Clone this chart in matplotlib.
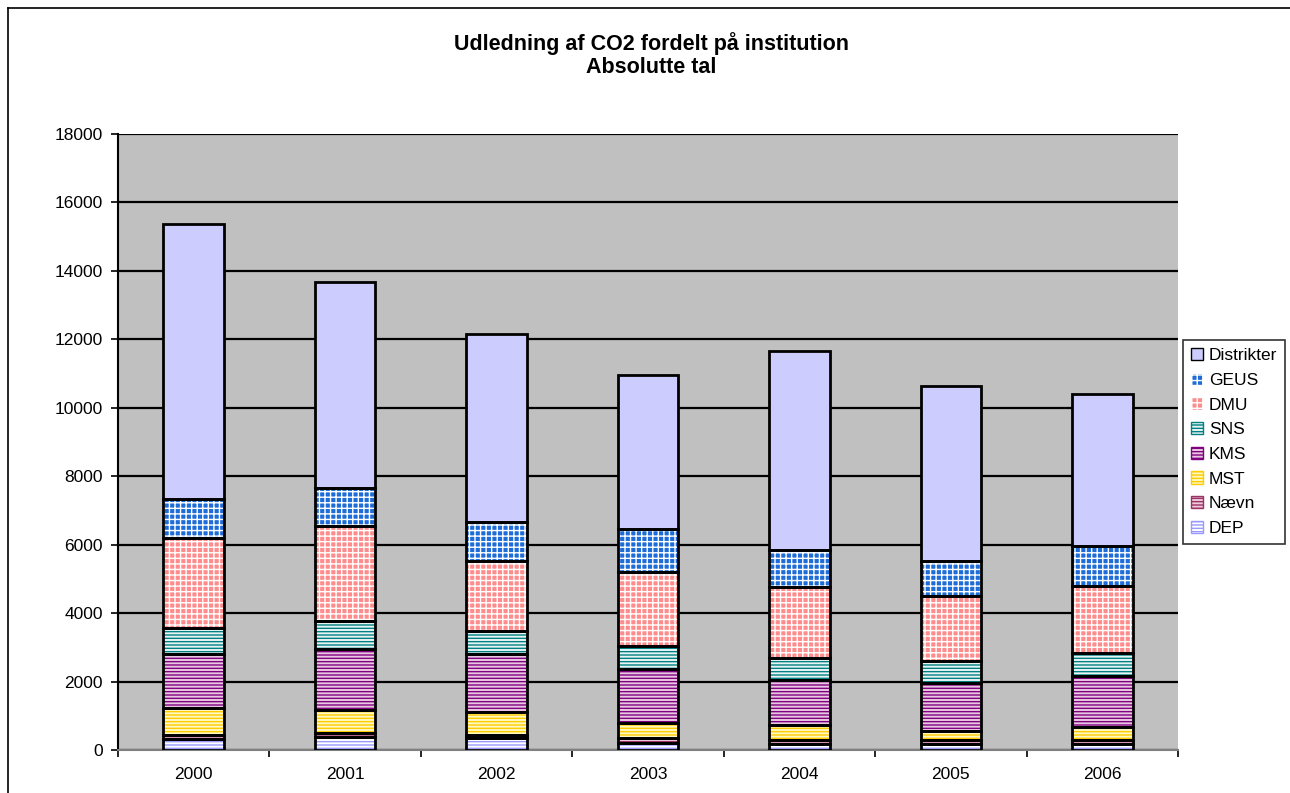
import numpy as np
import matplotlib.pyplot as plt
from matplotlib.patches import Patch
from matplotlib.lines import Line2D

plt.rcParams['font.family'] = ['Liberation Sans', 'DejaVu Sans']
plt.rcParams['hatch.linewidth'] = 1.0

years = ['2000', '2001', '2002', '2003', '2004', '2005', '2006']
series = ['DEP', 'Nævn', 'MST', 'KMS', 'SNS', 'DMU', 'GEUS', 'Distrikter']

dep = [313, 371, 341, 214, 175, 175, 166]
naevn = [117, 117, 97, 127, 117, 117, 126]
mst = [798, 681, 682, 439, 438, 263, 390]
kms = [1579, 1773, 1685, 1587, 1315, 1393, 1489]
sns = [760, 836, 681, 681, 634, 662, 672]
dmu = [2637, 2776, 2025, 2153, 2093, 1890, 1937]
geus = [1122, 1092, 1140, 1257, 1061, 1011, 1169]
distrikter = [8044, 6038, 5514, 4508, 5834, 5134, 4463]

values = [dep, naevn, mst, kms, sns, dmu, geus, distrikter]

# face colour, hatch colour, hatch pattern
styles = [
    ('#FFFFFF', '#9999FF', '-----'),
    ('#F0C8D8', '#993366', '-----'),
    ('#FFF8C0', '#FFCC00', '-----'),
    ('#E8C8E0', '#800080', '-----'),
    ('#E8F4F4', '#008080', '-----'),
    ('#FF8C8C', '#FFFFFF', '+++'),
    ('#1E6CD8', '#FFFFFF', '+++'),
    ('#CCCCFF', None, None),
]

fig = plt.figure(figsize=(12.9, 7.93), dpi=100)
ax = fig.add_axes([118 / 1290, 43 / 793, 1060 / 1290, 616 / 793])
ax.set_facecolor('#C0C0C0')

x = np.arange(len(years))
width = 0.40
bottom = np.zeros(len(years))
for vals, (fc, hc, hatch) in zip(values, styles):
    vals = np.array(vals, dtype=float)
    if hatch:
        ax.bar(x, vals, width, bottom=bottom, color=fc, edgecolor=hc,
               hatch=hatch, linewidth=0, zorder=3)
    else:
        ax.bar(x, vals, width, bottom=bottom, color=fc, linewidth=0, zorder=3)
    ax.bar(x, vals, width, bottom=bottom, fill=False, edgecolor='black',
           linewidth=2, zorder=4)
    bottom += vals

ax.set_xlim(-0.5, len(years) - 0.5)
ax.set_ylim(0, 18000)
ax.set_yticks(np.arange(0, 18001, 2000))
ax.set_yticklabels([str(v) for v in range(0, 18001, 2000)], fontsize=12.5)
ax.yaxis.grid(True, color='black', linewidth=1.6, zorder=1)
ax.set_axisbelow(True)

ax.set_xticks(x)
ax.set_xticklabels(years, fontsize=12.5)
ax.tick_params(axis='x', which='major', length=0, pad=12)
ax.set_xticks(np.arange(-0.5, len(years), 1), minor=True)
ax.tick_params(axis='x', which='minor', length=5, width=1.2, direction='out')
ax.tick_params(axis='y', length=5, width=1.2, pad=6)

for s in ['top', 'right']:
    ax.spines[s].set_visible(False)
ax.spines['left'].set_linewidth(1.5)
ax.spines['bottom'].set_linewidth(1.5)
ax.spines['bottom'].set_color('#808080')

fig.text(0.505, 1 - 55 / 793, 'Udledning af CO2 fordelt på institution\nAbsolutte tal',
         ha='center', va='center', fontsize=15.5, fontweight='bold',
         linespacing=1.15)

handles = []
for name, (fc, hc, hatch) in zip(series, styles):
    if hatch:
        handles.append(Patch(facecolor=fc, edgecolor=hc, hatch=hatch, label=name))
    else:
        handles.append(Patch(facecolor=fc, edgecolor='black', label=name))
leg = fig.legend(handles[::-1], series[::-1], loc='center left',
                 bbox_to_anchor=(1183 / 1290, (793 - 442) / 793),
                 fontsize=12.5, frameon=True, fancybox=False, edgecolor='black',
                 handlelength=0.7, handleheight=0.7, handletextpad=0.35,
                 labelspacing=0.55, borderpad=0.45, borderaxespad=0)
leg.get_frame().set_linewidth(1.2)

# outer chart frame
fig.add_artist(Line2D([8 / 1290, 8 / 1290], [0, 1 - 8 / 793], color='black',
                      linewidth=1.2, transform=fig.transFigure))
fig.add_artist(Line2D([8 / 1290, 1], [1 - 8 / 793, 1 - 8 / 793], color='black',
                      linewidth=1.2, transform=fig.transFigure))

fig.savefig('out.png', dpi=100)
